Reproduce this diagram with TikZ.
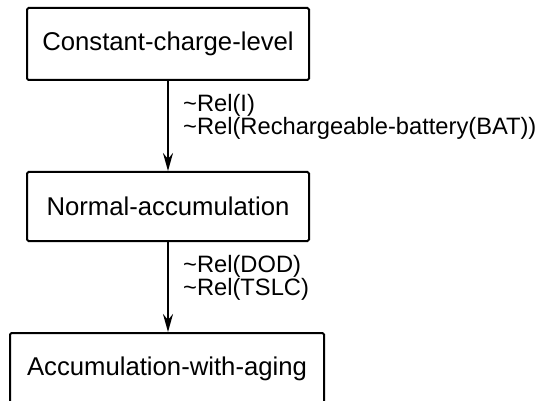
\documentclass[tikz,border=0pt]{standalone}
\usepackage{fontspec}
\setmainfont{Liberation Sans}
\usetikzlibrary{arrows.meta}
\tikzset{
  box/.style={draw, line width=2pt, rounded corners=1.5pt, inner sep=0pt, font=\fontsize{25.7}{30}\selectfont},
  arr/.style={line width=2pt, -{Stealth[length=18pt, width=10pt, inset=6pt]}},
  lbl/.style={anchor=west, align=left, inner sep=0pt, font=\fontsize{23.7}{21.5}\selectfont}
}
\begin{document}
\begin{tikzpicture}[x=1pt,y=-1pt]
\useasboundingbox (0,0) rectangle (541,401);
\node[box, minimum width=282, minimum height=72] (a) at (168,44) {Constant-charge-level};
\node[box, minimum width=282, minimum height=69] (b) at (168,206.5) {Normal-accumulation};
\node[box, minimum width=314, minimum height=72] (c) at (167,369) {Accumulation-with-aging};
\draw[arr] (a.south) -- (b.north);
\draw[arr] (b.south) -- (b.south |- c.north);
\node[lbl] (l1) at (183,117) {\textasciitilde Rel(I)\\\textasciitilde Rel(Rechargeable-battery(BAT))};
\node[lbl] (l2) at (183,278) {\textasciitilde Rel(DOD)\\\textasciitilde Rel(TSLC)};
\end{tikzpicture}
\end{document}
